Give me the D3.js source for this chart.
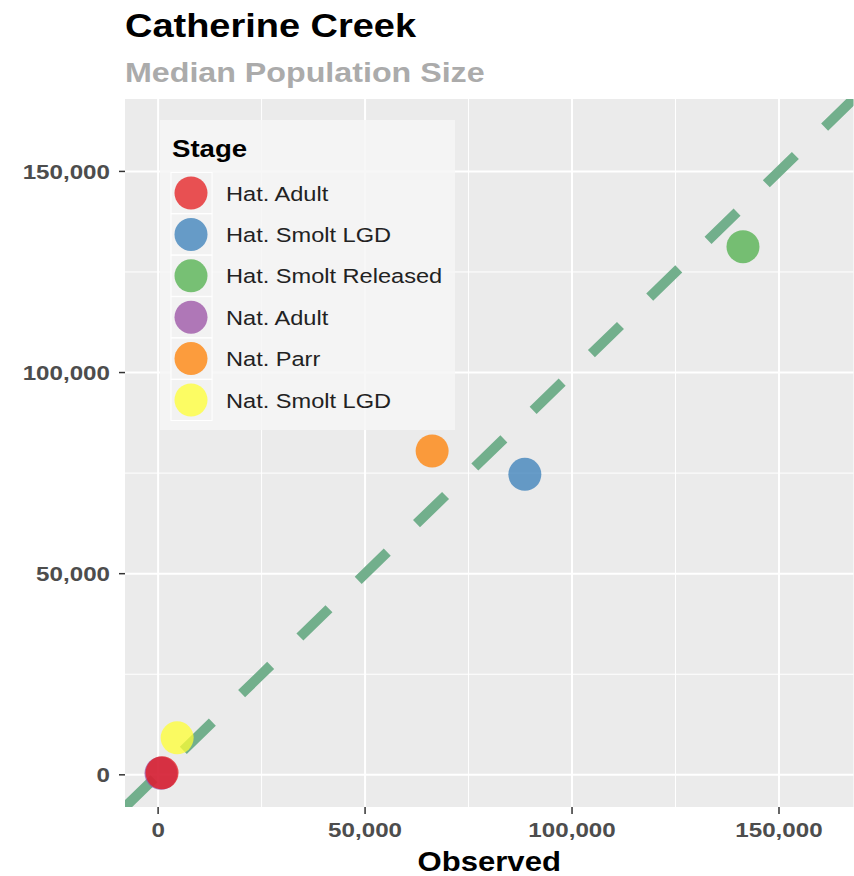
<!DOCTYPE html>
<html>
<head>
<meta charset="utf-8">
<script src="https://cdn.jsdelivr.net/npm/d3@7"></script>
<style>
  body { margin: 0; background: #fff; }
  svg { display: block; }
  text { font-family: "Liberation Sans", Arial, Helvetica, sans-serif; }
</style>
</head>
<body>
<svg id="chart" width="854" height="876"></svg>
<script>
// Median population size by life stage: observed vs. predicted
const stages = ["Hat. Adult", "Hat. Smolt LGD", "Hat. Smolt Released", "Nat. Adult", "Nat. Parr", "Nat. Smolt LGD"];
const stageColors = ["#E41A1C", "#377EB8", "#4DAF4A", "#984EA3", "#FF7F00", "#FFFF33"];
const observed = [950, 88600, 141300, 700, 66200, 4600];
const predicted = [500, 74700, 131300, 400, 80500, 9200];
// stacking order of the points (first drawn ends up underneath)
const drawOrder = [5, 3, 0, 4, 1, 2];
const majorTicks = [0, 50000, 100000, 150000];
const minorTicks = [25000, 75000, 125000];
const axisLimits = [0, 160000];

const svg = d3.select("#chart");
const panel = { left: 125, right: 853.5, top: 99, bottom: 807 };
const WIDEN = 1.15;

// expand limits by 5% on each side, as ggplot does
const span = axisLimits[1] - axisLimits[0];
const dom = [axisLimits[0] - 0.05 * span, axisLimits[1] + 0.05 * span];
const x = d3.scaleLinear().domain(dom).range([panel.left, panel.right]);
const y = d3.scaleLinear().domain(dom).range([panel.bottom, panel.top]);
const fmt = d3.format(",");

function widen(sel, f = WIDEN) {
  sel.each(function () {
    const w = this.getComputedTextLength();
    this.setAttribute("textLength", w * f);
    this.setAttribute("lengthAdjust", "spacingAndGlyphs");
  });
  return sel;
}

// titles
widen(svg.append("text").attr("x", 125).attr("y", 37)
  .attr("font-size", 33).attr("font-weight", "bold").attr("fill", "#000")
  .text("Catherine Creek"));
widen(svg.append("text").attr("x", 125).attr("y", 82)
  .attr("font-size", 28).attr("font-weight", "bold").attr("fill", "#ababab")
  .text("Median Population Size"));

// panel background and grid
svg.append("rect").attr("x", panel.left).attr("y", panel.top)
  .attr("width", panel.right - panel.left).attr("height", panel.bottom - panel.top)
  .attr("fill", "#ebebeb");

const grid = svg.append("g");
grid.selectAll(".vminor").data(minorTicks).join("line")
  .attr("x1", d => x(d)).attr("x2", d => x(d))
  .attr("y1", panel.top).attr("y2", panel.bottom)
  .attr("stroke", "#fff").attr("stroke-width", 1);
grid.selectAll(".hminor").data(minorTicks).join("line")
  .attr("y1", d => y(d)).attr("y2", d => y(d))
  .attr("x1", panel.left).attr("x2", panel.right)
  .attr("stroke", "#fff").attr("stroke-width", 1);
grid.selectAll(".vmajor").data(majorTicks).join("line")
  .attr("x1", d => x(d)).attr("x2", d => x(d))
  .attr("y1", panel.top).attr("y2", panel.bottom)
  .attr("stroke", "#fff").attr("stroke-width", 2);
grid.selectAll(".hmajor").data(majorTicks).join("line")
  .attr("y1", d => y(d)).attr("y2", d => y(d))
  .attr("x1", panel.left).attr("x2", panel.right)
  .attr("stroke", "#fff").attr("stroke-width", 2);

// clip for in-panel marks
svg.append("clipPath").attr("id", "panelClip").append("rect")
  .attr("x", panel.left).attr("y", panel.top)
  .attr("width", panel.right - panel.left).attr("height", panel.bottom - panel.top);
const plot = svg.append("g").attr("clip-path", "url(#panelClip)");

// 1:1 reference line
plot.append("line")
  .attr("x1", x(dom[0])).attr("y1", y(dom[0]))
  .attr("x2", x(dom[1])).attr("y2", y(dom[1]))
  .attr("stroke", "#72af8c").attr("stroke-width", 10)
  .attr("stroke-dasharray", "40.5,40.8").attr("stroke-linecap", "butt");

// points
const pts = drawOrder.map(i => ({ stage: stages[i], color: stageColors[i], obs: observed[i], pred: predicted[i] }));
plot.selectAll("circle.pt").data(pts).join("circle")
  .attr("class", "pt")
  .attr("cx", d => x(d.obs)).attr("cy", d => y(d.pred))
  .attr("r", 16.5).attr("fill", d => d.color).attr("fill-opacity", 0.75);

// axes: ticks and labels
const axisCol = "#333";
svg.selectAll(".ytick").data(majorTicks).join("line")
  .attr("x1", panel.left - 6).attr("x2", panel.left)
  .attr("y1", d => y(d)).attr("y2", d => y(d))
  .attr("stroke", axisCol).attr("stroke-width", 1.5);
widen(svg.selectAll(".ylab").data(majorTicks).join("text")
  .attr("x", 110).attr("y", d => y(d) + 7.5)
  .attr("text-anchor", "end").attr("font-size", 21).attr("font-weight", "bold")
  .attr("fill", "#4d4d4d").text(d => fmt(d)));

svg.selectAll(".xtick").data(majorTicks).join("line")
  .attr("x1", d => x(d)).attr("x2", d => x(d))
  .attr("y1", panel.bottom).attr("y2", panel.bottom + 7)
  .attr("stroke", axisCol).attr("stroke-width", 1.5);
widen(svg.selectAll(".xlab").data(majorTicks).join("text")
  .attr("x", d => x(d)).attr("y", 837)
  .attr("text-anchor", "middle").attr("font-size", 21).attr("font-weight", "bold")
  .attr("fill", "#4d4d4d").text(d => fmt(d)));

widen(svg.append("text").attr("x", (panel.left + panel.right) / 2).attr("y", 871)
  .attr("text-anchor", "middle").attr("font-size", 27).attr("font-weight", "bold")
  .attr("fill", "#000").text("Observed"));

// legend
const leg = svg.append("g");
leg.append("rect").attr("x", 160).attr("y", 120).attr("width", 295).attr("height", 310)
  .attr("fill", "#f6f6f6").attr("fill-opacity", 0.85);
widen(leg.append("text").attr("x", 172).attr("y", 157)
  .attr("font-size", 24).attr("font-weight", "bold").attr("fill", "#000").text("Stage"));
const keyStep = 41.4, keyY0 = 193;
const items = leg.selectAll("g.item").data(stages).join("g")
  .attr("class", "item")
  .attr("transform", (d, i) => `translate(0,${keyY0 + i * keyStep})`);
items.append("rect").attr("x", 171).attr("y", -20.5).attr("width", 41).attr("height", 41)
  .attr("fill", "#f2f2f2").attr("stroke", "#fff").attr("stroke-width", 1);
items.append("circle").attr("cx", 191).attr("cy", 0).attr("r", 16.5)
  .attr("fill", (d, i) => stageColors[i]).attr("fill-opacity", 0.75);
widen(items.append("text").attr("x", 226).attr("y", 7.5)
  .attr("font-size", 20.5).attr("fill", "#222").text(d => d));
</script>
</body>
</html>
